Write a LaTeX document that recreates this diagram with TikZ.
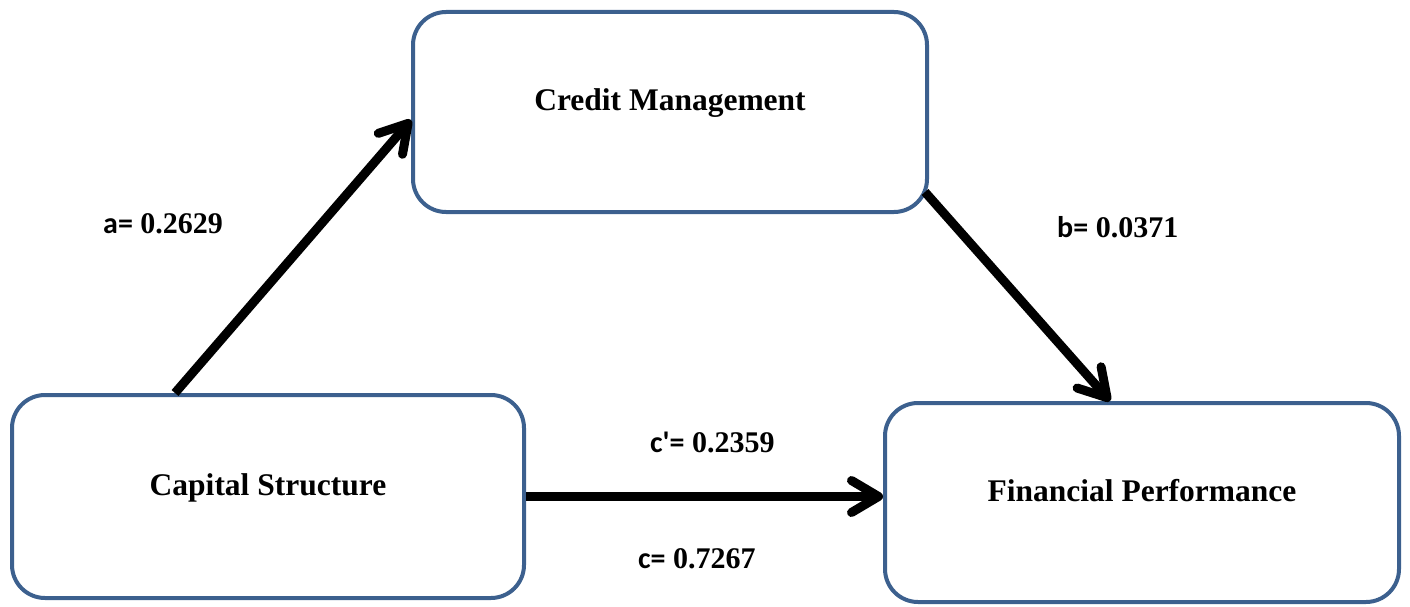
\documentclass[tikz,border=0pt]{standalone}
\usepackage{fontspec}
\setmainfont{Liberation Serif}
\newfontfamily\labsans{Carlito}
\usetikzlibrary{arrows.meta}
\definecolor{boxblue}{RGB}{60,96,142}
\tikzset{
  varbox/.style={draw=boxblue, line width=4pt, rounded corners=33pt, fill=white,
    minimum width=#1, text height=20pt, text depth=22pt, inner sep=0pt,
    font=\fontsize{31.5}{36}\selectfont\bfseries},
  patharrow/.style={draw=black, line width=9pt,
    -{Straight Barb[length=27pt,width=32pt,line cap=round,line join=round]}},
  coef/.style={anchor=base west, inner sep=0pt, font=\fontsize{30}{34}\selectfont\bfseries}
}
\begin{document}
\begin{tikzpicture}[x=1pt,y=-1pt]
\useasboundingbox (0,0) rectangle (1410,607);
\node[varbox=514pt, minimum height=200pt] (cred) at (670,112) {Credit Management};
\node[varbox=512pt, minimum height=203pt] (cap) at (268,496.5) {Capital Structure};
\node[varbox=514pt, minimum height=199pt] (fin) at (1142,502.5) {Financial Performance};

\draw[patharrow] ([xshift=165pt]cap.north west) -- ([yshift=-8pt]cred.west);
\draw[patharrow] ([xshift=-4pt,yshift=22pt]cred.south east) -- ([xshift=227pt]fin.north west);
\draw[patharrow] (cap.east) -- (cap.east -| fin.west);

\node[coef] (la) at (103,233) {{\labsans a=} 0.2629};
\node[coef] (lb) at (1057,237) {{\labsans b=} 0.0371};
\node[coef] (lcp) at (650,452) {{\labsans c'=} 0.2359};
\node[coef] (lc) at (638,568) {{\labsans c=} 0.7267};
\end{tikzpicture}
\end{document}
